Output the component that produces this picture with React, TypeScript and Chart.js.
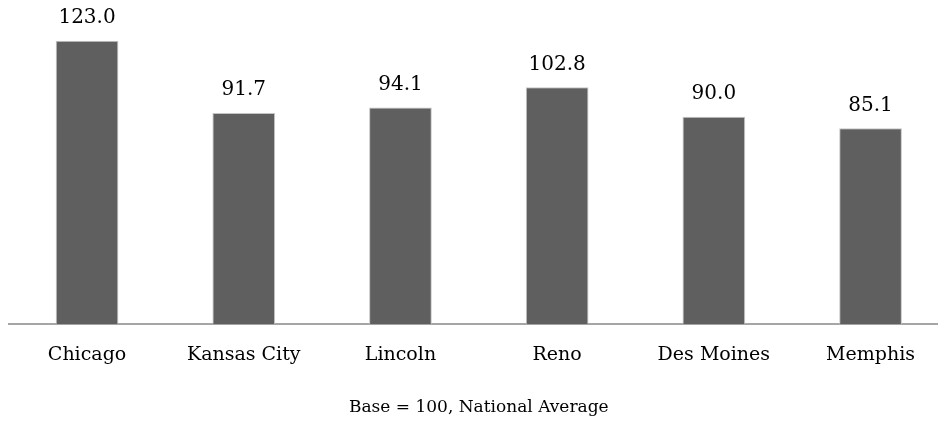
import { useEffect, useRef } from "react";
import { Chart, registerables } from "chart.js";

Chart.register(...registerables);

const categories = ["Chicago", "Kansas City", "Lincoln", "Reno", "Des Moines", "Memphis"];
const values = [123.0, 91.7, 94.1, 102.8, 90.0, 85.1];
const axisTitle = "Base = 100, National Average";

const FONT = "'DejaVu Serif', serif";

export default function App() {
  const ref = useRef<HTMLCanvasElement>(null);
  useEffect(() => {
    if (!ref.current) return;
    const labelPlugin = {
      id: "valueLabels",
      afterDatasetsDraw(chart: any) {
        const ctx = chart.ctx;
        const meta = chart.getDatasetMeta(0);
        ctx.save();
        ctx.font = `20px ${FONT}`;
        ctx.fillStyle = "#000";
        ctx.textAlign = "center";
        ctx.textBaseline = "alphabetic";
        meta.data.forEach((el: any, i: number) => {
          ctx.fillText(values[i].toFixed(1), el.x, el.y - 17.5);
        });
        ctx.restore();
      },
    };
    const chart = new Chart(ref.current, {
      type: "bar",
      data: {
        labels: categories,
        datasets: [
          {
            data: values,
            backgroundColor: "#5f5f5f",
            borderColor: "#c4c4c4",
            borderWidth: 1,
            barPercentage: 0.4,
            categoryPercentage: 1,
          },
        ],
      },
      options: {
        animation: false,
        responsive: false,
        layout: { padding: { left: 8.7, right: 11.1, top: 1.6, bottom: 0 } },
        plugins: { legend: { display: false }, tooltip: { enabled: false } },
        scales: {
          x: {
            grid: { display: false, drawTicks: false },
            border: { display: true, color: "#a6a6a6", width: 2 },
            ticks: { color: "#000", font: { family: FONT, size: 19 }, padding: 19 },
            title: {
              display: true,
              text: axisTitle,
              color: "#000",
              font: { family: FONT, size: 17 },
              padding: { top: 12.4, bottom: 3.1 },
            },
          },
          y: { display: false, min: 0, max: 140 },
        },
      },
      plugins: [labelPlugin],
    });
    return () => chart.destroy();
  }, []);
  return (
    <div
      style={{
        position: "fixed",
        left: 0,
        top: 0,
        width: 938,
        height: 421,
        overflow: "hidden",
        background: "#fff",
      }}
    >
      <canvas ref={ref} width={960} height={421} style={{ display: "block" }} />
    </div>
  );
}
